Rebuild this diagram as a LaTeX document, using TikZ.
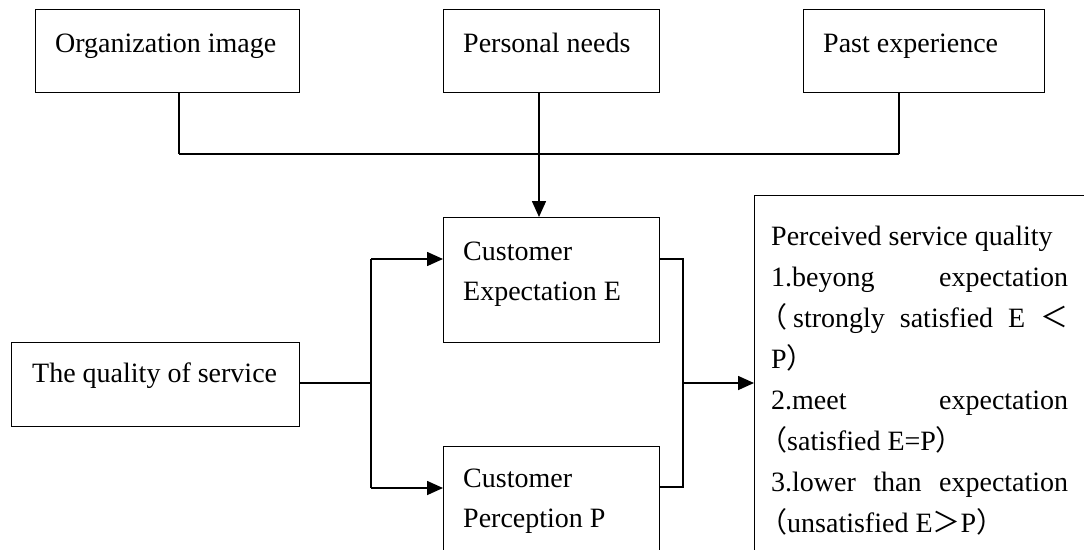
\documentclass[tikz,border=0pt]{standalone}
\usepackage{fontspec}
\setmainfont{Liberation Serif}
\newfontfamily\cjk[RawFeature=+halt]{Noto Sans CJK SC}
\newfontfamily\cjkfw{Noto Sans CJK SC}
\usetikzlibrary{arrows.meta}
\begin{document}
\begin{tikzpicture}[x=1pt,y=-1pt,
  box/.style={draw=black, line width=1.4pt, anchor=north west, inner sep=0pt, rectangle},
  txt/.style={anchor=base west, inner sep=0pt, font=\fontsize{28}{41}\selectfont},
  thinl/.style={line width=1.4pt},
  thickl/.style={line width=2.8pt},
  arr/.style={line width=1.6pt, -{Triangle[length=16pt,width=14pt]}}]
\useasboundingbox (0,0) rectangle (1084,549);
\clip (0,0) rectangle (1084,549);

% boxes
\node[box, minimum width=264pt, minimum height=83pt] (org) at (35,9) {};
\node[box, minimum width=216pt, minimum height=83pt] (pers) at (443,9) {};
\node[box, minimum width=241pt, minimum height=83pt] (past) at (803,9) {};
\node[box, minimum width=216pt, minimum height=125pt] (ce) at (443,217) {};
\node[box, minimum width=216pt, minimum height=125pt] (cp) at (443,446) {};
\node[box, minimum width=288pt, minimum height=84pt] (qual) at (11,342) {};
\node[box, minimum width=420pt, minimum height=420pt] (perc) at (754,195) {};

% texts
\node[txt] (torg) at (55,52) {Organization image};
\node[txt] (tpers) at (463,52) {Personal needs};
\node[txt] (tpast) at (823,52) {Past experience};
\node[txt] (tce) at (463,260) {\vtop{\baselineskip=40pt\lineskiplimit=-100pt
  \hbox{Customer}\hbox{Expectation E}}};
\node[txt] (tcp) at (463,487) {\vtop{\baselineskip=40pt\lineskiplimit=-100pt
  \hbox{Customer}\hbox{Perception P}}};
\node[txt] (tqual) at (32,382) {The quality of service};
\node[txt] (tperc) at (771,245) {\vtop{\baselineskip=41pt\lineskiplimit=-100pt
  \hbox{Perceived service quality}
  \hbox to 297pt{1.beyong\hfil expectation}
  \hbox to 297pt{\hskip 2pt{\cjk （}\hskip 6pt strongly\hfil satisfied\hfil E\hfil{\cjkfw ＜}}
  \hbox{P{\cjk ）}}
  \hbox to 297pt{2.meet\hfil expectation}
  \hbox{\hskip 2pt{\cjk （}satisfied E=P{\cjk ）}}
  \hbox to 297pt{3.lower\hfil than\hfil expectation}
  \hbox{\hskip 2pt{\cjk （}unsatisfied E{\cjkfw ＞}P{\cjk ）}}}};

% junction coordinates
\coordinate (j1) at (179,154);
\coordinate (j3) at (899,154);
\coordinate (pn) at (539,154);
\coordinate (split) at (371,383);
\coordinate (sT) at (371,259);
\coordinate (sB) at (371,488);
\coordinate (bT) at (683,259);
\coordinate (bM) at (683,383);
\coordinate (bB) at (683,487);

% top connectors
\draw[thinl] (org.south -| j1) -- (j1);
\draw[thickl] (past.south -| j3) -- (j3);
\draw[thickl] (j1) -- (j3);
\draw[arr] (pers.south -| pn) -- (ce.north -| pn);

% left connectors
\draw[thinl] (qual.east |- split) -- (split);
\draw[thickl] (sT) -- (sB);
\draw[arr] (sT) -- (ce.west |- sT);
\draw[arr] (sB) -- (cp.west |- sB);

% right bracket
\draw[thickl] (ce.east |- bT) -- (bT) -- (bB) -- (cp.east |- bB);
\draw[arr] (bM) -- (perc.west |- bM);
\end{tikzpicture}
\end{document}
